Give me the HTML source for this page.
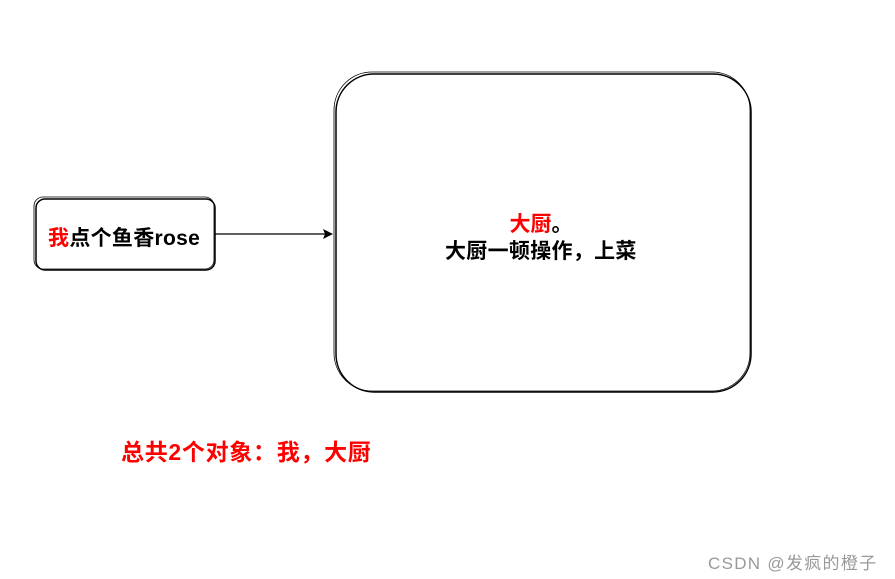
<!DOCTYPE html>
<html><head><meta charset="utf-8"><style>
body{margin:0;width:895px;height:579px;background:#fff;overflow:hidden;position:relative;font-family:"Liberation Sans","Noto Sans CJK SC",sans-serif}
.t{position:absolute;white-space:nowrap;font-weight:bold}
</style></head><body>
<svg width="895" height="579" style="position:absolute;left:0;top:0">
<rect x="36" y="199" width="179" height="71" rx="9" fill="#fff" stroke="#000" stroke-width="1.5"/>
<rect x="34" y="197" width="180" height="72" rx="9" fill="none" stroke="#000" stroke-width="0.8"/>
<line x1="215" y1="234" x2="326" y2="234" stroke="#000" stroke-width="1.2"/>
<polygon points="333,234 323,229 325,234 323,239" fill="#000"/>
<rect x="336" y="74" width="415" height="318" rx="38" fill="#fff" stroke="#000" stroke-width="1.5"/>
<rect x="334" y="72" width="416" height="319" rx="38" fill="none" stroke="#000" stroke-width="0.8"/>
</svg>
<div class="t" style="left:48px;top:222px;font-size:21px;letter-spacing:0.3px"><span style="color:#f00">我</span>点个鱼香rose</div>
<div class="t" style="left:341px;width:400px;text-align:center;top:208px;font-size:21px"><span style="color:#f00">大厨</span>。</div>
<div class="t" style="left:445px;top:235px;font-size:21px;letter-spacing:0.3px">大厨一顿操作，上菜</div>
<div class="t" style="left:121px;top:433px;font-size:23px;letter-spacing:0.7px;color:#f00">总共2个对象：我，大厨</div>
<div style="position:absolute;left:708px;top:549px;font-size:17px;letter-spacing:1.3px;color:#999;white-space:nowrap">CSDN @发疯的橙子</div>
</body></html>
